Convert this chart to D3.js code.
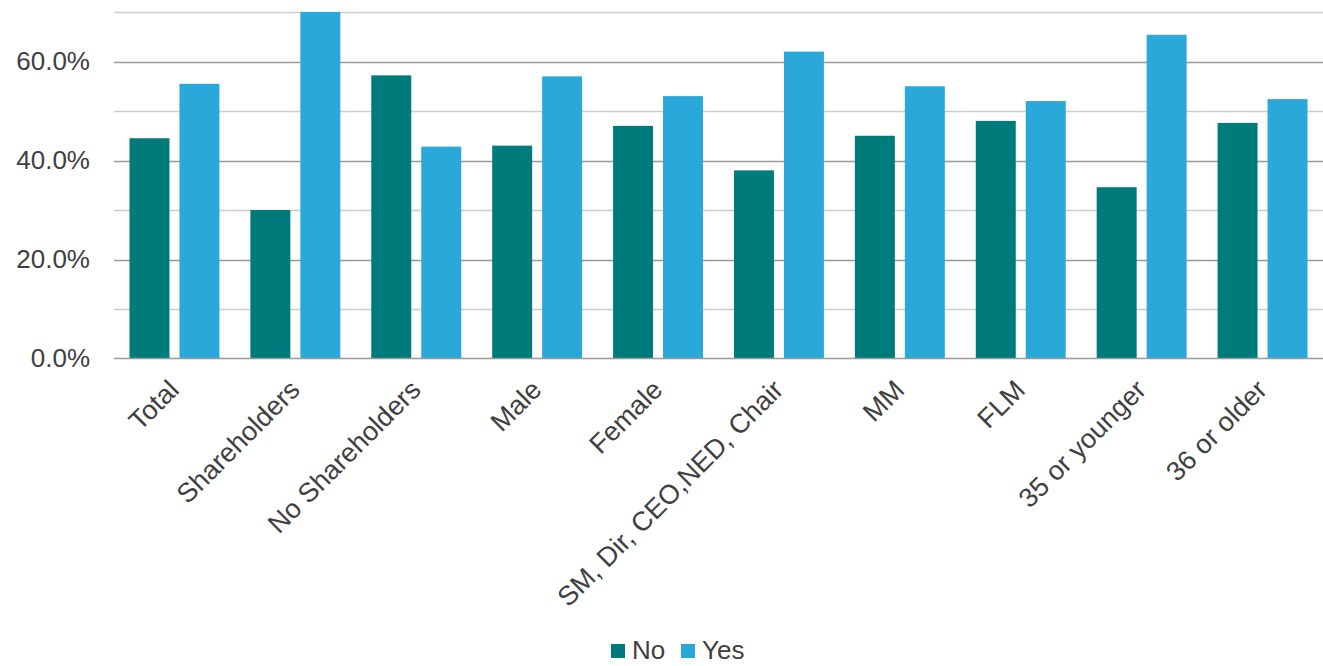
<!DOCTYPE html>
<html><head><meta charset="utf-8">
<script src="https://cdn.jsdelivr.net/npm/d3@7"></script>
<style>body{margin:0;background:#fff;} svg{display:block;font-family:"Liberation Sans",Arial,sans-serif;}</style>
</head><body>
<svg id="c" width="1323" height="666"></svg>
<script>
const categories = ["Total","Shareholders","No Shareholders","Male","Female","SM, Dir, CEO,NED, Chair","MM","FLM","35 or younger","36 or older"];
const seriesNames = ["No","Yes"];
const noValues  = [44.5, 30.0, 57.2, 43.0, 47.0, 38.0, 45.0, 48.0, 34.6, 47.6];
const yesValues = [55.5, 70.0, 42.8, 57.0, 53.0, 62.0, 55.0, 52.0, 65.4, 52.4];
const yTicks = [0, 20, 40, 60];
const yGrid = [0,10,20,30,40,50,60,70];
const colors = {No:"#007b7c", Yes:"#2aa8d9"};

(function(){
const svg = d3.select("#c");
const mLeft = 114, mRight = 1323, mTop = 12, mBottom = 358.5;
const x = d3.scaleBand().domain(categories).range([mLeft, mRight]).paddingInner(0.256).paddingOuter(0.128);
const xs = d3.scaleBand().domain(seriesNames).range([0, x.bandwidth()]).paddingInner(0.2);
const y = d3.scaleLinear().domain([0,70]).range([mBottom, mTop]);

const g = svg.append("g");
g.selectAll("line.grid").data(yGrid.filter(d=>d>0)).join("line")
  .attr("x1", mLeft).attr("x2", mRight)
  .attr("y1", d=>Math.round(y(d))+0.5).attr("y2", d=>Math.round(y(d))+0.5)
  .attr("stroke", d=> d%20===0 ? "#999" : "#ccc").attr("stroke-width", 1.5);

const data = categories.map((c,i)=>({c, vals:[{s:"No",v:noValues[i]},{s:"Yes",v:yesValues[i]}]}));
const grp = g.selectAll("g.cat").data(data).join("g").attr("transform", d=>`translate(${x(d.c)},0)`);
grp.selectAll("rect").data(d=>d.vals).join("rect")
  .attr("x", d=>xs(d.s)).attr("width", xs.bandwidth())
  .attr("y", d=>y(d.v)).attr("height", d=>mBottom - y(d.v))
  .attr("fill", d=>colors[d.s]);

g.append("line").attr("x1", mLeft).attr("x2", mRight).attr("y1", mBottom).attr("y2", mBottom)
  .attr("stroke", "#999").attr("stroke-width", 1.5);

const yAxis = d3.axisLeft(y).tickValues(yTicks).tickFormat(d=>d.toFixed(1)+"%").tickSize(0).tickPadding(24);
const ya = svg.append("g").attr("transform", `translate(${mLeft},0)`).call(yAxis);
ya.select(".domain").remove();
ya.selectAll("text").attr("font-size", 26).attr("fill", "#404040").attr("font-family","Liberation Sans, Arial, sans-serif");

const xAxis = d3.axisBottom(x).tickSize(0).tickPadding(0);
const xa = svg.append("g").attr("transform", `translate(0,${mBottom})`).call(xAxis);
xa.select(".domain").remove();
xa.selectAll("text").attr("font-size", 27).attr("fill", "#404040").attr("font-family","Liberation Sans, Arial, sans-serif")
  .attr("text-anchor","end").attr("dy", null).attr("y", 0)
  .attr("transform", "translate(6,33) rotate(-45)");

const leg = svg.append("g").attr("transform","translate(611,644)");
const items = [{s:"No", x:0},{s:"Yes", x:70}];
const li = leg.selectAll("g").data(items).join("g").attr("transform", d=>`translate(${d.x},0)`);
li.append("rect").attr("width",14).attr("height",14).attr("fill", d=>colors[d.s]);
li.append("text").attr("x",21).attr("y",15).attr("font-size",26).attr("fill","#404040").text(d=>d.s);
})();
</script>
</body></html>
